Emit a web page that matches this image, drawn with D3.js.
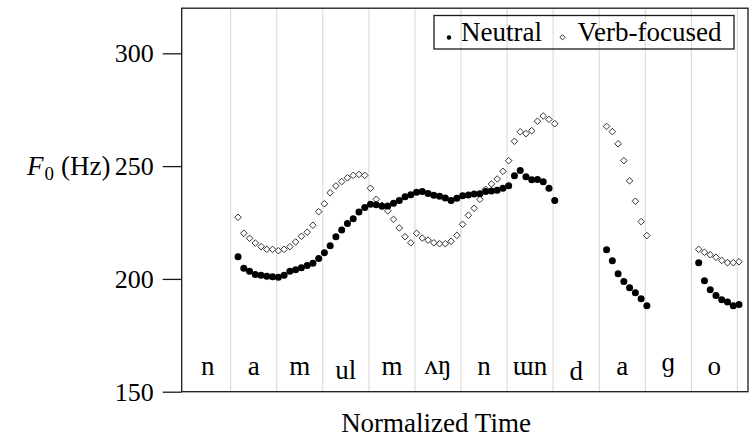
<!DOCTYPE html>
<html>
<head>
<meta charset="utf-8">
<script src="https://cdn.jsdelivr.net/npm/d3@7"></script>
<style>
  body { margin: 0; background: #fff; }
  svg { display: block; }
  text { font-family: "Liberation Serif", "Times New Roman", serif; fill: #000; }
</style>
</head>
<body>
<div id="chart"></div>
<script>
// Phone segments along the normalized time axis (one unit each).
const segments = ["n", "a", "m", "ul", "m", "ʌŋ", "n", "ɯn", "d", "a", "ɡ", "o"];
const yTicks = [150, 200, 250, 300];

// F0 tracks, in chunks. Each chunk starts at a time (segment units)
// and is sampled every 1/8 of a segment.
const sampleStep = 0.125;
const chunkStarts = [1.16, 9.16, 11.16];

const neutralF0 = [
  [209.8, 204.7, 203.4, 202.0, 201.6, 201.2, 201.0, 200.7,
   201.6, 203.4, 204.1, 205.0, 205.9, 206.9, 209.0, 211.6,
   214.7, 218.7, 221.7, 224.6, 226.7, 229.7, 231.6, 233.1,
   232.9, 232.2, 232.3, 233.5, 234.8, 236.4, 237.3, 238.4,
   238.8, 237.9, 237.1, 236.6, 235.9, 234.8, 235.7, 236.9,
   237.2, 237.6, 237.8, 238.7, 239.0, 239.3, 240.2, 241.3,
   245.7, 248.0, 245.3, 244.0, 244.1, 243.1, 240.2, 234.8],
  [212.9, 208.1, 202.3, 198.8, 196.1, 193.9, 191.2, 188.1],
  [207.2, 199.2, 195.2, 192.6, 190.8, 189.8, 188.1, 188.7]
];

const verbF0 = [
  [227.3, 220.2, 218.0, 215.9, 214.3, 213.1, 213.1, 212.5,
   213.1, 214.3, 216.4, 218.9, 220.7, 223.8, 229.8, 233.3,
   238.2, 241.2, 243.1, 244.8, 245.9, 246.3, 245.9, 240.2,
   235.3, 232.6, 230.2, 226.4, 222.6, 218.7, 216.0, 220.2,
   218.1, 217.2, 216.0, 215.6, 215.6, 216.7, 219.3, 224.2,
   228.2, 231.3, 235.3, 239.7, 242.1, 244.3, 247.7, 252.4,
   261.0, 265.2, 264.4, 265.7, 269.9, 272.2, 270.7, 268.8],
  [267.6, 265.3, 259.9, 252.4, 243.5, 234.4, 225.4, 219.2],
  [213.1, 211.8, 210.7, 209.6, 208.2, 207.2, 207.2, 207.6]
];

const width = 750, height = 439;
const plot = { left: 181.7, right: 748, top: 8.2, bottom: 391.7 };

const x = d3.scaleLinear().domain([-0.063, 12.23]).range([plot.left, plot.right]);
const y = d3.scaleLinear().domain([150, 320]).range([plot.bottom, plot.top]);

function toPoints(chunks) {
  const pts = [];
  chunks.forEach((vals, c) => {
    vals.forEach((v, i) => pts.push({ t: chunkStarts[c] + i * sampleStep, f0: v }));
  });
  return pts;
}
const neutral = toPoints(neutralF0);
const verb = toPoints(verbF0);

const svg = d3.select("#chart").append("svg")
  .attr("width", width)
  .attr("height", height);

// vertical segment boundaries
svg.append("g")
  .selectAll("line")
  .data(d3.range(1, segments.length + 1))
  .join("line")
  .attr("x1", d => x(d)).attr("x2", d => x(d))
  .attr("y1", plot.top).attr("y2", plot.bottom)
  .attr("stroke", "#d6d6d6")
  .attr("stroke-width", 1);

// segment labels; nudge ones with ascenders/descenders like a centred box would
const nudge = { "ul": 3.5, "d": 4.5, "ɡ": -4, "ʌŋ": -1 };
svg.append("g")
  .selectAll("text")
  .data(segments)
  .join("text")
  .attr("x", (d, i) => x(i + 0.5))
  .attr("y", d => 375 + (nudge[d] || 0))
  .attr("text-anchor", "middle")
  .attr("font-size", 27)
  .text(d => d);

// frame
svg.append("rect")
  .attr("x", plot.left).attr("y", plot.top)
  .attr("width", plot.right - plot.left)
  .attr("height", plot.bottom - plot.top)
  .attr("fill", "none")
  .attr("stroke", "#1a1a1a")
  .attr("stroke-width", 1.3);

// y axis
const yAxis = svg.append("g")
  .attr("transform", `translate(${plot.left},0)`)
  .call(d3.axisLeft(y).tickValues(yTicks).tickSize(19).tickPadding(9));
yAxis.select(".domain").remove();
yAxis.selectAll(".tick line").attr("stroke", "#1a1a1a").attr("stroke-width", 1.3);
yAxis.selectAll(".tick text")
  .attr("font-family", '"Liberation Serif", serif')
  .attr("font-size", 26)
  .attr("fill", "#000");

// y label: F_0 (Hz)
const yl = svg.append("text").attr("x", 27).attr("y", 175).attr("font-size", 27);
yl.append("tspan").attr("font-style", "italic").text("F");
yl.append("tspan").attr("font-size", 19).attr("dx", 1).attr("dy", 5).text("0");
yl.append("tspan").attr("dx", 7).attr("dy", -5).text("(Hz)");

// x label
svg.append("text")
  .attr("x", 436).attr("y", 431.5)
  .attr("text-anchor", "middle")
  .attr("font-size", 27)
  .text("Normalized Time");

const diamond = (cx, cy, r) => `M${cx},${cy - r}L${cx + r},${cy}L${cx},${cy + r}L${cx - r},${cy}Z`;

// verb-focused: hollow diamonds
svg.append("g")
  .selectAll("path")
  .data(verb)
  .join("path")
  .attr("d", d => diamond(x(d.t), y(d.f0), 3.3))
  .attr("fill", "#fff")
  .attr("stroke", "#333")
  .attr("stroke-width", 1);

// neutral: filled dots
svg.append("g")
  .selectAll("circle")
  .data(neutral)
  .join("circle")
  .attr("cx", d => x(d.t))
  .attr("cy", d => y(d.f0))
  .attr("r", 3.5)
  .attr("fill", "#000");

// legend (no fill, grid shows through)
const lg = svg.append("g");
lg.append("rect")
  .attr("x", 434).attr("y", 15.5)
  .attr("width", 300).attr("height", 33.5)
  .attr("fill", "none")
  .attr("stroke", "#1a1a1a")
  .attr("stroke-width", 1.3);
lg.append("circle").attr("cx", 449).attr("cy", 37.5).attr("r", 2.2).attr("fill", "#000");
lg.append("text").attr("x", 461).attr("y", 40.5).attr("font-size", 27).text("Neutral");
lg.append("path").attr("d", diamond(562.5, 37.3, 2.6))
  .attr("fill", "#fff").attr("stroke", "#333").attr("stroke-width", 1);
lg.append("text").attr("x", 577.5).attr("y", 40.5).attr("font-size", 27).text("Verb-focused");
</script>
</body>
</html>
